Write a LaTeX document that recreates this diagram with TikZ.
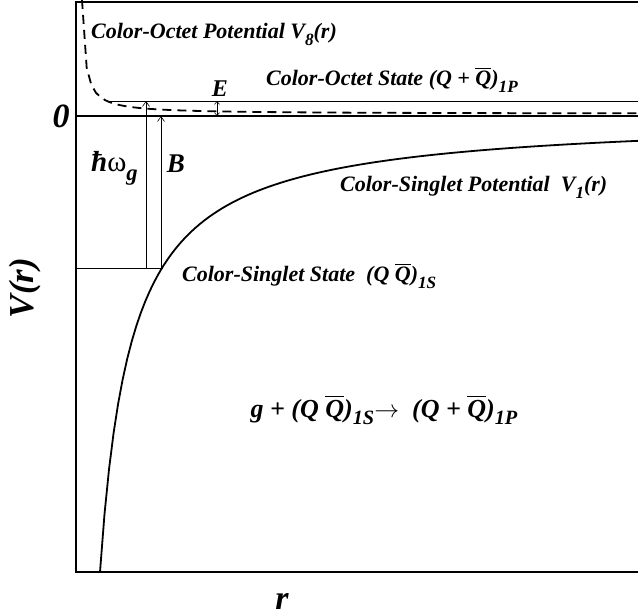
\documentclass[tikz,border=0pt]{standalone}
\usepackage{amsmath}
\usepackage{fontspec}
\setmainfont{Liberation Serif}
\usetikzlibrary{arrows.meta}
\newcommand{\Qbar}{$\overline{\text{Q}}$}
\newcommand{\lowsub}[1]{\raisebox{-0.3em}{\scalebox{0.78}{#1}}}
\begin{document}
\begin{tikzpicture}[x=1pt, y=-1pt,
    axisline/.style={line width=2.3pt},
    curveline/.style={line width=1.8pt},
    levelline/.style={line width=0.8pt},
    gaparrow/.style={line width=0.6pt, -{Straight Barb[length=5pt,width=7pt]}},
    mylabel/.style={font=\bfseries\itshape\fontsize{22}{26}\selectfont, inner sep=0pt},
    biglabel/.style={font=\bfseries\itshape\fontsize{27}{30}\selectfont, inner sep=0pt}
]
    \useasboundingbox (0,0) rectangle (638,615);

    % frame and zero line
    \coordinate (TL) at (76,2);
    \coordinate (TR) at (638,2);
    \coordinate (BL) at (76,572);
    \coordinate (BR) at (638,572);
    \coordinate (Z0) at (76,116);
    \coordinate (Z1) at (638,116);
    \draw[axisline] (TR) -- (TL) -- (BL) -- (BR);
    \draw[axisline] (Z0) -- (Z1);
    \draw[levelline] (TL) -- (TR);

    % potentials
    \draw[curveline] plot[domain=100:638, samples=120] (\x, {116+14136/(\x-69)});
    \draw[curveline, dash pattern=on 9pt off 6pt]
        plot[domain=82:638, samples=120] (\x, {114-365/(\x-78.8)});

    % levels
    \coordinate (O1) at (108,101);
    \coordinate (O2) at (638,101);
    \coordinate (S1) at (76,268);
    \coordinate (S2) at (163,268);
    \draw[levelline] (O1) -- (O2);
    \draw[levelline] (S1) -- (S2);

    % gaps
    \coordinate (hwA) at (146,268);
    \coordinate (hwB) at (146,101);
    \coordinate (BA) at (161,116);
    \coordinate (BB) at (161,268);
    \coordinate (EA) at (217,101);
    \coordinate (EB) at (217,116);
    \draw[gaparrow] (hwA) -- (hwB);
    \draw[gaparrow, {Straight Barb[length=5pt,width=7pt]}-] (BA) -- (BB);
    \draw[gaparrow, {Straight Barb[length=3pt,width=5pt]}-{Straight Barb[length=3pt,width=5pt]}] (EA) -- (EB);

    % labels
    \node[mylabel, anchor=base west] (octpot) at (91,39) {Color-Octet Potential V\lowsub{8}(r)};
    \node[mylabel, anchor=base west] (octst) at (266,86) {Color-Octet State (Q + \Qbar)\lowsub{1P}};
    \node[mylabel, anchor=base west] (sinpot) at (340,192) {Color-Singlet Potential~ V\lowsub{1}(r)};
    \node[mylabel, anchor=base west] (sinst) at (182,282) {Color-Singlet State~ (Q \Qbar)\lowsub{1S}};
    \node[biglabel, anchor=base, font=\bfseries\itshape\fontsize{24}{28}\selectfont] (elab) at (220,97) {E};
    \node[biglabel, anchor=base] (blab) at (176,173) {B};
    \node[biglabel, anchor=base west, font=\bfseries\itshape\fontsize{29}{32}\selectfont] (hwlab) at (91,172) {ħ{\normalfont ω}\lowsub{g}};
    \node[biglabel, font=\bfseries\itshape\fontsize{34}{38}\selectfont] (zero) at (61,116) {0};
    \node[biglabel, font=\bfseries\itshape\fontsize{35}{38}\selectfont, rotate=90] (vlab) at (25,288) {V(r)};
    \node[biglabel, font=\bfseries\itshape\fontsize{34}{38}\selectfont] (rlab) at (282,601) {r};
    \node[biglabel, anchor=base, font=\bfseries\itshape\fontsize{26}{30}\selectfont] (react) at (384,417) {g + (Q \Qbar)\lowsub{1S}$\rightarrow$~ (Q + \Qbar)\lowsub{1P}};
\end{tikzpicture}
\end{document}
